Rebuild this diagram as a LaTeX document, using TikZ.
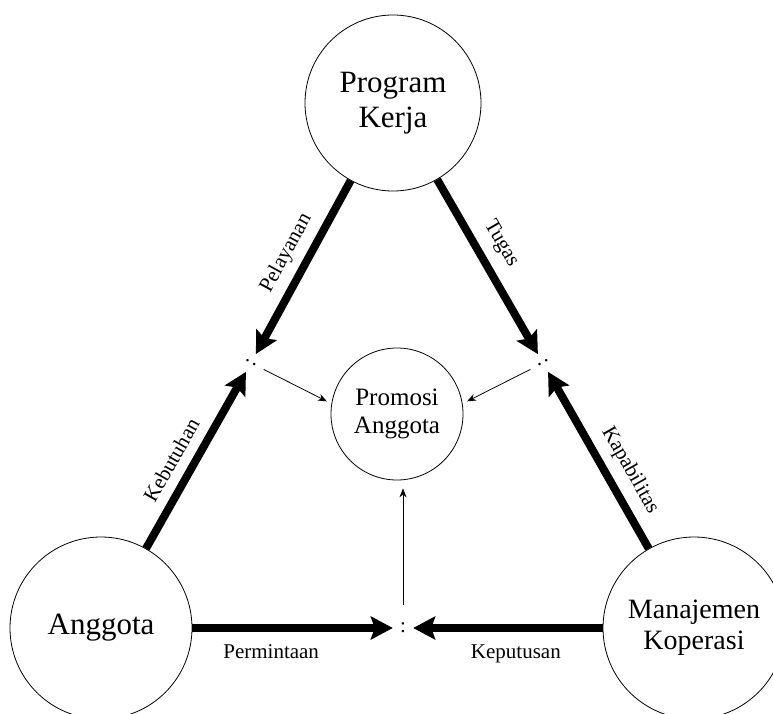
\documentclass[tikz,border=0pt]{standalone}
\usepackage{fontspec}
\setmainfont{Liberation Serif}
\usetikzlibrary{arrows.meta}
\begin{document}
\begin{tikzpicture}[x=1pt,y=-1pt,
  bigcirc/.style={circle,draw,line width=0.8pt,inner sep=0pt,align=center},
  junc/.style={circle,inner sep=0pt,minimum size=20pt,font=\fontsize{21}{21}\selectfont},
  bigarrow/.style={line width=8pt,-{Stealth[length=22pt,width=23pt,inset=4pt]}},
  smallarrow/.style={line width=0.8pt,-{Stealth[length=9pt,width=7pt]}},
  lbl/.style={font=\fontsize{21}{21}\selectfont,sloped,inner sep=3pt},
  hlbl/.style={font=\fontsize{21}{21}\selectfont,inner sep=3pt}]
\useasboundingbox (0,0) rectangle (773,714);
\clip (0,0) rectangle (773,714);
% main circles
\node[bigcirc,minimum size=176pt,font=\fontsize{31}{35}\selectfont] (PK) at (393,103) {Program\\Kerja};
\node[bigcirc,minimum size=182pt,font=\fontsize{31}{35}\selectfont] (A) at (101,628) {Anggota};
\node[bigcirc,minimum size=182pt,font=\fontsize{28}{31}\selectfont] (MK) at (694,628) {Manajemen\\Koperasi};
\node[bigcirc,minimum size=132pt,font=\fontsize{25}{28}\selectfont] (P) at (397,414) {Promosi\\Anggota};
% junctions
\node[junc,rotate=60] (jL) at (251,363) {:};
\node[junc,rotate=-60] (jR) at (543,363) {:};
\node[junc] (jB) at (403,628) {:};
% thick arrows
\draw[bigarrow] (PK) -- node[lbl,pos=0.478,above=5pt] {Pelayanan} (jL);
\draw[bigarrow] (PK) -- node[lbl,pos=0.434,above=7pt] {Tugas} (jR);
\draw[bigarrow] (A) -- node[lbl,pos=0.44,above=7pt] {Kebutuhan} (jL);
\draw[bigarrow] (MK) -- node[lbl,pos=0.38,above=6pt] {Kapabilitas} (jR);
\draw[bigarrow] (A) -- node[hlbl,pos=0.393,below=10pt] {Permintaan} (jB);
\draw[bigarrow] (MK) -- node[hlbl,pos=0.458,below=10pt] {Keputusan} (jB);
% thin arrows
\draw[smallarrow,shorten <=4pt,shorten >=5pt] (jL) -- (P.171);
\draw[smallarrow,shorten <=4pt,shorten >=5pt] (jR) -- (P.9);
\draw[smallarrow,shorten <=13pt,shorten >=8pt] (jB) -- (jB |- P.south);
\end{tikzpicture}
\end{document}
